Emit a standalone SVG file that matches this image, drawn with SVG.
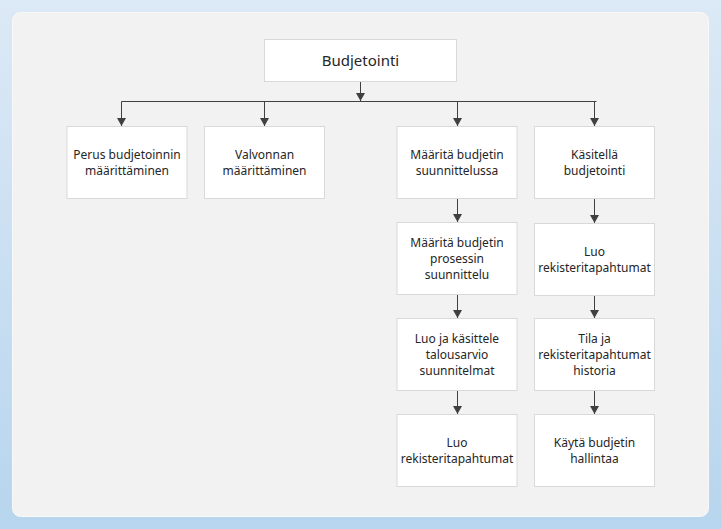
<svg xmlns="http://www.w3.org/2000/svg" width="721" height="529" viewBox="0 0 721 529">
<defs>
<linearGradient id="bg" x1="0" y1="0" x2="0" y2="1">
<stop offset="0" stop-color="#dce9f6"/>
<stop offset="1" stop-color="#b7d5ee"/>
</linearGradient>
<marker id="ah" viewBox="0 0 8 9" refX="8" refY="4.5" markerWidth="8" markerHeight="9" markerUnits="userSpaceOnUse" orient="auto">
<path d="M0,0 L8,4.5 L0,9 Z" fill="#404040"/>
</marker>
<style>
.box{fill:#ffffff;stroke:#d9d9d9;stroke-width:1}
.t{font-family:"Noto Sans","Open Sans","DejaVu Sans",sans-serif;font-size:12px;fill:#262626;text-anchor:middle}
.tt{font-family:"Noto Sans","Open Sans","DejaVu Sans",sans-serif;font-size:15px;fill:#262626;text-anchor:middle}
.c{fill:none;stroke:#404040;stroke-width:1}
.a{fill:none;stroke:#404040;stroke-width:1;marker-end:url(#ah)}
</style>
</defs>
<rect x="0" y="0" width="721" height="529" fill="url(#bg)"/>
<rect x="12.5" y="12.5" width="696" height="504" rx="8" fill="#f2f2f2" stroke="#f8f8f8" stroke-width="1"/>
<g id="connectors">
<path class="c" d="M121.5,101.5 H596.5"/>
<path class="a" d="M360.5,81 V101"/>
<path class="a" d="M121.5,101.5 V126"/>
<path class="a" d="M264.5,101.5 V126"/>
<path class="a" d="M457.5,101.5 V126"/>
<path class="a" d="M594.5,101.5 V126"/>
<path class="a" d="M457.5,198 V222"/>
<path class="a" d="M457.5,294 V318"/>
<path class="a" d="M457.5,390 V414"/>
<path class="a" d="M594.5,198 V223"/>
<path class="a" d="M594.5,295 V318"/>
<path class="a" d="M594.5,390 V414"/>
</g>
<g id="n0"><rect class="box" x="264.5" y="39.5" width="192" height="42"/><text class="tt" x="360.5" y="65.5">Budjetointi</text></g>
<g id="n1"><rect class="box" x="67" y="126.5" width="120" height="72"/><text class="t" x="127" y="159">Perus budjetoinnin</text><text class="t" x="127" y="175">määrittäminen</text></g>
<g id="n2"><rect class="box" x="204.5" y="126.5" width="120" height="72"/><text class="t" x="264.5" y="159">Valvonnan</text><text class="t" x="264.5" y="175">määrittäminen</text></g>
<g id="n3"><rect class="box" x="397" y="126.5" width="120" height="72"/><text class="t" x="457" y="159">Määritä budjetin</text><text class="t" x="457" y="175">suunnittelussa</text></g>
<g id="n4"><rect class="box" x="534.5" y="126.5" width="120" height="72"/><text class="t" x="594.5" y="159">Käsitellä</text><text class="t" x="594.5" y="175">budjetointi</text></g>
<g id="n5"><rect class="box" x="397" y="222.5" width="120" height="72"/><text class="t" x="457" y="247">Määritä budjetin</text><text class="t" x="457" y="263">prosessin</text><text class="t" x="457" y="279">suunnittelu</text></g>
<g id="n6"><rect class="box" x="534.5" y="223.5" width="120" height="72"/><text class="t" x="594.5" y="256">Luo</text><text class="t" x="594.5" y="272">rekisteritapahtumat</text></g>
<g id="n7"><rect class="box" x="397" y="318.5" width="120" height="72"/><text class="t" x="457" y="343">Luo ja käsittele</text><text class="t" x="457" y="359">talousarvio</text><text class="t" x="457" y="375">suunnitelmat</text></g>
<g id="n8"><rect class="box" x="534.5" y="318.5" width="120" height="72"/><text class="t" x="594.5" y="343">Tila ja</text><text class="t" x="594.5" y="359">rekisteritapahtumat</text><text class="t" x="594.5" y="375">historia</text></g>
<g id="n9"><rect class="box" x="397" y="414.5" width="120" height="72"/><text class="t" x="457" y="447">Luo</text><text class="t" x="457" y="463">rekisteritapahtumat</text></g>
<g id="n10"><rect class="box" x="534.5" y="414.5" width="120" height="72"/><text class="t" x="594.5" y="447">Käytä budjetin</text><text class="t" x="594.5" y="463">hallintaa</text></g>
</svg>
